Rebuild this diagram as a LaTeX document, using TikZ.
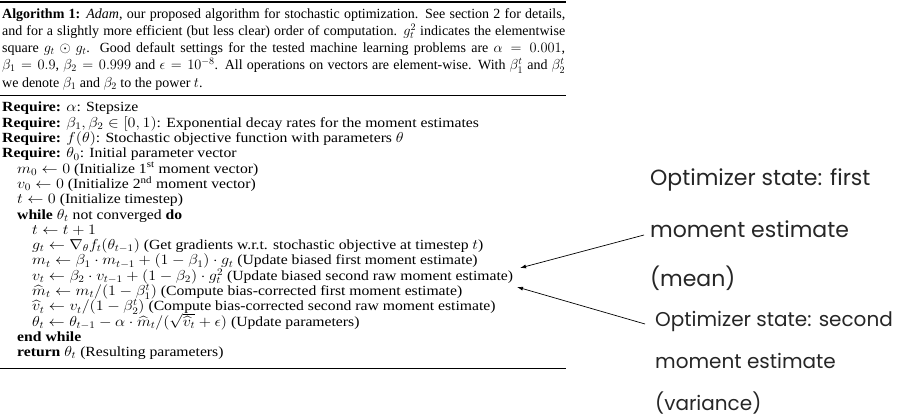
\documentclass[tikz,border=0pt]{standalone}
\usepackage[no-math]{fontspec}
\usepackage{amsmath,amssymb}
\setmainfont{Liberation Serif}
\newfontfamily\gothic{Poppins}
\usetikzlibrary{arrows.meta}

% algorithm lines are set a little wider than their natural shape
\newcommand{\algtext}[1]{\scalebox{1.12}[1]{#1}}

\tikzset{
  algline/.style={anchor=base west, inner sep=0pt, font=\fontsize{14}{15}\selectfont},
  captext/.style={anchor=north west, inner sep=0pt, text width=563pt, align=justify,
    font=\fontsize{14}{17.25}\selectfont},
  note/.style={anchor=west, inner sep=0pt, text=black!85},
  bignote/.style={note, font=\gothic\fontsize{22}{26}\selectfont},
  smallnote/.style={note, font=\gothic\fontsize{20}{24}\selectfont},
  algrule/.style={line width=0.9pt},
  pointer/.style={-{Latex[length=6pt,width=4pt]}, line width=0.7pt},
}

\begin{document}
\begin{tikzpicture}[x=1pt, y=-1pt]
  \useasboundingbox (0,0) rectangle (924,419);

  % rules of the algorithm box
  \coordinate (R1a) at (0,2);   \coordinate (R1b) at (566,2);
  \coordinate (R2a) at (0,95);  \coordinate (R2b) at (566,95);
  \coordinate (R3a) at (0,368); \coordinate (R3b) at (566,368);
  \draw[algrule, line width=1.3pt] (R1a) -- (R1b);
  \draw[algrule] (R2a) -- (R2b);
  \draw[algrule] (R3a) -- (R3b);

  % caption
  \node[captext] (cap) at (2,8) {\textbf{Algorithm 1:} \textit{Adam}, our proposed algorithm for stochastic optimization. See section 2 for details,\linebreak
    and for a slightly more efficient (but less clear) order of computation. $g_t^2$ indicates the elementwise\linebreak
    square $g_t \odot g_t$. Good default settings for the tested machine learning problems are $\alpha = 0.001$,\linebreak
    $\beta_1 = 0.9$, $\beta_2 = 0.999$ and $\epsilon = 10^{-8}$. All operations on vectors are element-wise. With $\beta_1^t$ and $\beta_2^t$\linebreak
    we denote $\beta_1$ and $\beta_2$ to the power $t$.};

  % algorithm body
  \node[algline] (req1) at (2,112) {\algtext{\textbf{Require:} $\alpha$: Stepsize}};
  \node[algline] (req2) at (2,127.3) {\algtext{\textbf{Require:} $\beta_1, \beta_2 \in [0,1)$: Exponential decay rates for the moment estimates}};
  \node[algline] (req3) at (2,142.6) {\algtext{\textbf{Require:} $f(\theta)$: Stochastic objective function with parameters $\theta$}};
  \node[algline] (req4) at (2,157.9) {\algtext{\textbf{Require:} $\theta_0$: Initial parameter vector}};
  \node[algline] (init1) at (17,173.2) {\algtext{$m_0 \leftarrow 0$ (Initialize 1\textsuperscript{st} moment vector)}};
  \node[algline] (init2) at (17,188.5) {\algtext{$v_0 \leftarrow 0$ (Initialize 2\textsuperscript{nd} moment vector)}};
  \node[algline] (init3) at (17,203.8) {\algtext{$t \leftarrow 0$ (Initialize timestep)}};
  \node[algline] (loop) at (17,219.1) {\algtext{\textbf{while} $\theta_t$ not converged \textbf{do}}};
  \node[algline] (step) at (32,234.4) {\algtext{$t \leftarrow t+1$}};
  \node[algline] (grad) at (32,249.7) {\algtext{$g_t \leftarrow \nabla_{\theta} f_t(\theta_{t-1})$ (Get gradients w.r.t. stochastic objective at timestep $t$)}};
  \node[algline] (mt) at (32,265) {\algtext{$m_t \leftarrow \beta_1 \cdot m_{t-1} + (1-\beta_1) \cdot g_t$ (Update biased first moment estimate)}};
  \node[algline] (vt) at (32,280.3) {\algtext{$v_t \leftarrow \beta_2 \cdot v_{t-1} + (1-\beta_2) \cdot g_t^2$ (Update biased second raw moment estimate)}};
  \node[algline] (mhat) at (32,295.6) {\algtext{$\widehat{m}_t \leftarrow m_t/(1-\beta_1^t)$ (Compute bias-corrected first moment estimate)}};
  \node[algline] (vhat) at (32,310.9) {\algtext{$\widehat{v}_t \leftarrow v_t/(1-\beta_2^t)$ (Compute bias-corrected second raw moment estimate)}};
  \node[algline] (upd) at (32,326.2) {\algtext{$\theta_t \leftarrow \theta_{t-1} - \alpha \cdot \widehat{m}_t/(\sqrt{\widehat{v}_t} + \epsilon)$ (Update parameters)}};
  \node[algline] (endloop) at (17,341.5) {\algtext{\textbf{end while}}};
  \node[algline] (ret) at (17,356.8) {\algtext{\textbf{return} $\theta_t$ (Resulting parameters)}};

  % notes on the right
  \node[bignote] (first1) at (650,180) {Optimizer state: first};
  \node[bignote] (first2) at (650,229) {moment estimate};
  \node[bignote] (first3) at (650,278) {(mean)};
  \node[smallnote] (second1) at (655,321) {Optimizer state: second};
  \node[smallnote] (second2) at (655,361) {moment estimate};
  \node[smallnote] (second3) at (655,403) {(variance)};

  % pointers
  \coordinate (tipm) at (520,268);
  \coordinate (tipv) at (517,287);
  \draw[pointer] ([shift={(-6,6)}]first2.west) -- (tipm);
  \draw[pointer] ([shift={(-10,3)}]second1.west) -- (tipv);
\end{tikzpicture}
\end{document}
